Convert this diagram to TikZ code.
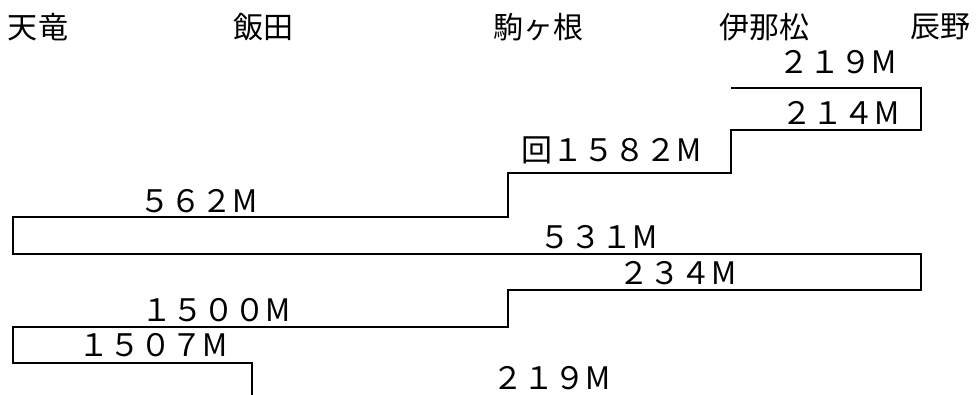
\documentclass[tikz,border=0pt]{standalone}
\usepackage{fontspec}
\newfontfamily\cjk{Noto Sans CJK JP}
\usetikzlibrary{positioning}

\tikzset{
	station/.style	= {font=\cjk\fontsize{30}{30}\selectfont, inner sep=0pt},
	train/.style	= {font=\cjk\fontsize{31}{31}\selectfont, inner sep=0pt},
	route/.style	= {line width=1.6pt, line join=miter}
}

\begin{document}
\begin{tikzpicture}[x=1pt,y=-1pt]
	\useasboundingbox (0,0) rectangle (976,394);

	\node[station] (tenryu)	at (38,27)	{天竜};
	\node[station] (iida)	at (263,27)	{飯田};
	\node[station] (koma)	at (538,27)	{駒ヶ根};
	\node[station] (inamatsu)	at (764,27)	{伊那松};
	\node[station] (tatsuno)	at (940,27)	{辰野};

	\coordinate (p1)	at (731,88);
	\coordinate (p2)	at (921,88);
	\coordinate (p3)	at (921,130);
	\coordinate (p4)	at (731,130);
	\coordinate (p5)	at (731,173);
	\coordinate (p6)	at (508,173);
	\coordinate (p7)	at (508,217);
	\coordinate (p8)	at (13,217);
	\coordinate (p9)	at (13,254);
	\coordinate (p10)	at (921,254);
	\coordinate (p11)	at (921,290);
	\coordinate (p12)	at (508,290);
	\coordinate (p13)	at (508,327);
	\coordinate (p14)	at (13,327);
	\coordinate (p15)	at (13,363);
	\coordinate (p16)	at (252,363);
	\coordinate (p17)	at (252,400);

	\draw[route] (p1) -- (p2) -- (p3) -- (p4) -- (p5) -- (p6) -- (p7) -- (p8)
		-- (p9) -- (p10) -- (p11) -- (p12) -- (p13) -- (p14) -- (p15) -- (p16) -- (p17);

	\node[train] (t219a)	at (838,62)	{２１９M};
	\node[train] (t214)	at (841,113)	{２１４M};
	\node[train] (t1582)	at (612,150)	{回１５８２M};
	\node[train] (t562)	at (199,201)	{５６２M};
	\node[train] (t531)	at (599,237)	{５３１M};
	\node[train] (t234)	at (678,273)	{２３４M};
	\node[train] (t1500)	at (216,310)	{１５００M};
	\node[train] (t1507)	at (153,345)	{１５０７M};
	\node[train] (t219b)	at (552,378)	{２１９M};
\end{tikzpicture}
\end{document}
